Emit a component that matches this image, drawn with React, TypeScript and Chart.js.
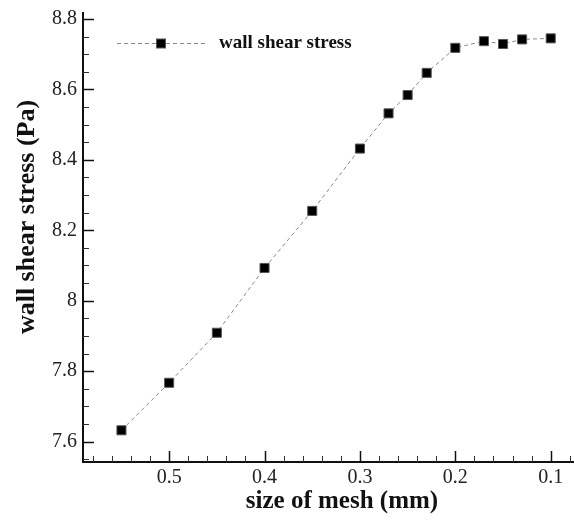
import React, { useEffect, useRef } from 'react';
import { Chart, registerables } from 'chart.js';

Chart.register(...registerables);

const meshSize = [0.55, 0.5, 0.45, 0.4, 0.35, 0.3, 0.27, 0.25, 0.23, 0.2, 0.17, 0.15, 0.13, 0.1];
const wallShearStress = [7.632, 7.767, 7.909, 8.093, 8.255, 8.432, 8.532, 8.584, 8.647, 8.718, 8.737, 8.729, 8.742, 8.745];
const xMajorTicks = [0.5, 0.4, 0.3, 0.2, 0.1];
const xTickLabels = ['0.5', '0.4', '0.3', '0.2', '0.1'];
const yMajorTicks = [7.6, 7.8, 8, 8.2, 8.4, 8.6, 8.8];
const yTickLabels = ['7.6', '7.8', '8', '8.2', '8.4', '8.6', '8.8'];
const xMinorTicks = [0.08, 0.12, 0.14, 0.16, 0.18, 0.22, 0.24, 0.26, 0.28, 0.32, 0.34, 0.36, 0.38, 0.42, 0.44, 0.46, 0.48, 0.52, 0.54, 0.56, 0.58];
const yMinorTicks = [7.55, 7.65, 7.7, 7.75, 7.85, 7.9, 7.95, 8.05, 8.1, 8.15, 8.25, 8.3, 8.35, 8.45, 8.5, 8.55, 8.65, 8.7, 8.75];
const seriesLabel = 'wall shear stress';
const xTitle = 'size of mesh (mm)';
const yTitle = 'wall shear stress (Pa)';

const SERIF = '"Liberation Serif", "Times New Roman", serif';
const LINE_COLOR = '#8a8a8a';
const DASH = [4, 3];

const decorPlugin = {
  id: 'decor',
  afterDraw(chart: any) {
    const ctx = chart.ctx;
    const xs = chart.scales.x;
    const ys = chart.scales.y;
    const area = chart.chartArea;
    ctx.save();
    // inward tick marks
    ctx.strokeStyle = '#111';
    ctx.lineWidth = 1.5;
    yMajorTicks.forEach((v) => {
      const py = Math.round(ys.getPixelForValue(v)) + 0.5;
      ctx.beginPath();
      ctx.moveTo(area.left, py);
      ctx.lineTo(area.left + 11, py);
      ctx.stroke();
    });
    xMajorTicks.forEach((v) => {
      const px = Math.round(xs.getPixelForValue(v)) + 0.5;
      ctx.beginPath();
      ctx.moveTo(px, area.bottom);
      ctx.lineTo(px, area.bottom - 11);
      ctx.stroke();
    });
    ctx.lineWidth = 1;
    ctx.strokeStyle = '#333';
    yMinorTicks.forEach((v) => {
      const py = Math.round(ys.getPixelForValue(v)) + 0.5;
      ctx.beginPath();
      ctx.moveTo(area.left, py);
      ctx.lineTo(area.left + 6, py);
      ctx.stroke();
    });
    xMinorTicks.forEach((v) => {
      const px = Math.round(xs.getPixelForValue(v)) + 0.5;
      ctx.beginPath();
      ctx.moveTo(px, area.bottom);
      ctx.lineTo(px, area.bottom - 6);
      ctx.stroke();
    });

    // axis titles
    ctx.fillStyle = '#111';
    ctx.font = `bold 25px ${SERIF}`;
    ctx.textAlign = 'center';
    ctx.textBaseline = 'middle';
    ctx.fillText(xTitle, 342, 502);
    ctx.save();
    ctx.translate(27, 217);
    ctx.rotate(-Math.PI / 2);
    ctx.font = `bold 26px ${SERIF}`;
    ctx.fillText(yTitle, 0, 0);
    ctx.restore();

    // legend
    const ly = 43.5;
    ctx.strokeStyle = LINE_COLOR;
    ctx.lineWidth = 1;
    ctx.setLineDash(DASH);
    ctx.beginPath();
    ctx.moveTo(117, ly);
    ctx.lineTo(205, ly);
    ctx.stroke();
    ctx.setLineDash([]);
    ctx.fillStyle = '#000';
    ctx.strokeStyle = '#555';
    ctx.fillRect(156.5, ly - 4.5, 9, 9);
    ctx.strokeRect(156.5, ly - 4.5, 9, 9);
    ctx.fillStyle = '#111';
    ctx.font = `bold 19px ${SERIF}`;
    ctx.textAlign = 'left';
    ctx.textBaseline = 'middle';
    ctx.fillText(chart.data.datasets[0].label, 219, ly);
    ctx.restore();
  },
};

export default function App() {
  const canvasRef = useRef<HTMLCanvasElement | null>(null);

  useEffect(() => {
    document.body.style.margin = '0';
    const canvas = canvasRef.current;
    if (!canvas) return;
    const chart = new Chart(canvas, {
      type: 'line',
      data: {
        datasets: [
          {
            label: seriesLabel,
            data: meshSize.map((x, i) => ({ x, y: wallShearStress[i] })),
            borderColor: LINE_COLOR,
            borderWidth: 1,
            borderDash: DASH,
            backgroundColor: '#000',
            pointStyle: 'rect',
            pointRadius: 6.4,
            pointHoverRadius: 6.4,
            pointBackgroundColor: '#000',
            pointBorderColor: '#555',
            pointBorderWidth: 1,
            tension: 0,
            fill: false,
          },
        ],
      },
      options: {
        animation: false,
        responsive: true,
        maintainAspectRatio: false,
        layout: { autoPadding: false, padding: { top: 13, right: 0, left: 0, bottom: 0 } },
        plugins: {
          legend: { display: false },
          tooltip: { enabled: false },
        },
        scales: {
          x: {
            type: 'linear',
            reverse: true,
            min: 0.0756,
            max: 0.5903,
            grid: { display: false, drawTicks: false },
            border: { display: true, color: '#111', width: 2 },
            afterBuildTicks: (scale: any) => {
              scale.ticks = xMajorTicks.map((value) => ({ value }));
            },
            afterFit: (scale: any) => {
              scale.height = 58;
              scale.paddingLeft = 0;
              scale.paddingRight = 0;
            },
            ticks: {
              padding: 4,
              color: '#222',
              font: { family: SERIF, size: 20 },
              callback: (_v: any, i: number) => xTickLabels[i],
              maxRotation: 0,
            },
          },
          y: {
            type: 'linear',
            min: 7.542,
            max: 8.817,
            grid: { display: false, drawTicks: false },
            border: { display: true, color: '#111', width: 2 },
            afterBuildTicks: (scale: any) => {
              scale.ticks = yMajorTicks.map((value) => ({ value }));
            },
            afterFit: (scale: any) => {
              scale.width = 83;
              scale.paddingTop = 0;
              scale.paddingBottom = 0;
            },
            ticks: {
              padding: 6,
              color: '#222',
              font: { family: SERIF, size: 20 },
              callback: (_v: any, i: number) => yTickLabels[i],
            },
          },
        },
      },
      plugins: [decorPlugin],
    });
    return () => chart.destroy();
  }, []);

  return (
    <div style={{ position: 'absolute', left: 0, top: 0, width: 574, height: 520 }}>
      <canvas ref={canvasRef} />
    </div>
  );
}
